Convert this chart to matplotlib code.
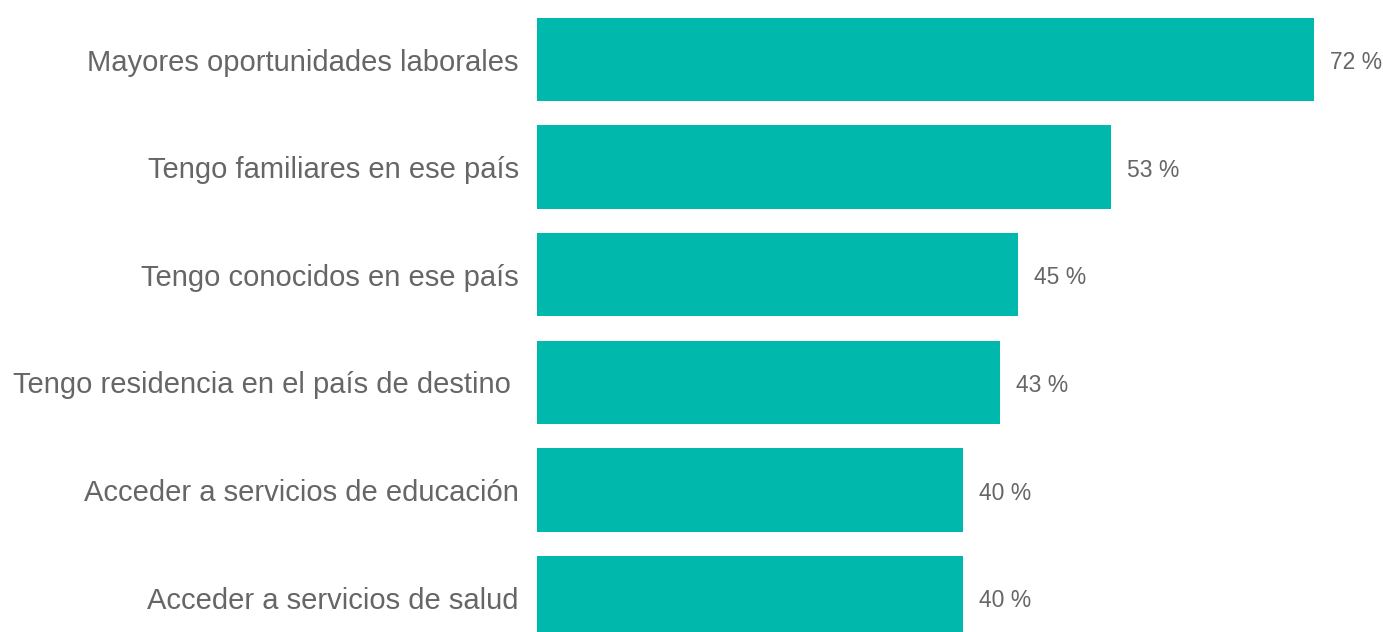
import numpy as np
import matplotlib
matplotlib.use("Agg")
import matplotlib.pyplot as plt

plt.rcParams['font.family'] = ['Liberation Sans', 'DejaVu Sans']

# Datos
categorias = [
    "Mayores oportunidades laborales",
    "Tengo familiares en ese país",
    "Tengo conocidos en ese país",
    "Tengo residencia en el país de destino ",
    "Acceder a servicios de educación",
    "Acceder a servicios de salud",
]
valores = [72.0, 53.2, 44.6, 42.9, 39.5, 39.5]
etiquetas = ["72 %", "53 %", "45 %", "43 %", "40 %", "40 %"]

color_barra = "#00B8AC"
color_texto = "#666666"

fig = plt.figure(figsize=(13.83, 6.32), dpi=100)
ax = fig.add_axes([537 / 1383, 0, 1 - 537 / 1383, 1])

y = np.arange(len(categorias))
ax.barh(y, valores, height=0.775, color=color_barra)

for yi, v, t in zip(y, valores, etiquetas):
    ax.text(v + 1.5, yi + 0.03, t, va='center', ha='left', fontsize=16.5, color=color_texto)

ax.set_yticks(y)
ax.set_yticklabels(categorias, fontsize=21, color=color_texto)
ax.tick_params(axis='y', length=0, pad=13)
ax.set_xticks([])

ax.set_xlim(0, 78.4)
ax.set_ylim(5.32, -0.553)
for s in ax.spines.values():
    s.set_visible(False)

fig.savefig("out.png", dpi=100)
